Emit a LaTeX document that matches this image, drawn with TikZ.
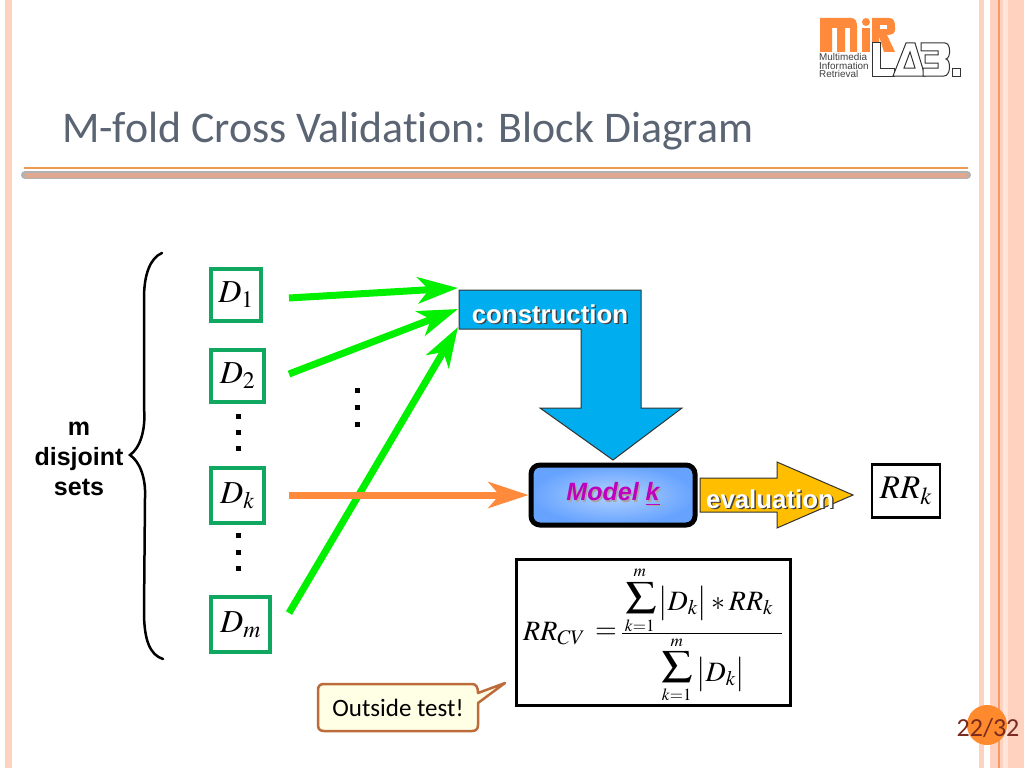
\documentclass[tikz,border=0pt]{standalone}
\usepackage[no-math]{fontspec}
\usepackage{mathptmx}
\setmainfont{Carlito}
\newfontfamily\arialfont{Liberation Sans}
\newfontfamily\titlefont[Ligatures=NoCommon]{Carlito}
\usetikzlibrary{arrows.meta}

\definecolor{stripecol}{HTML}{FFD2C0}
\definecolor{stripeline}{HTML}{F59A6B}
\definecolor{titlecol}{HTML}{5A6472}
\definecolor{ruleorange}{HTML}{EE9A4D}
\definecolor{setgreen}{HTML}{10A860}
\definecolor{arrowgreen}{HTML}{00F000}
\definecolor{arroworange}{HTML}{FF8A3C}
\definecolor{consblue}{HTML}{00AEEF}
\definecolor{evalyellow}{HTML}{FFBF00}
\definecolor{modelmid}{HTML}{B4D2FF}
\definecolor{modeledge}{HTML}{66A3FF}
\definecolor{notefill}{HTML}{FFFFE6}
\definecolor{noteline}{HTML}{BC6C3A}
\definecolor{pagecircle}{HTML}{FF8A2E}
\definecolor{pagetext}{HTML}{7A2A20}
\definecolor{logoorange}{HTML}{FF8A3C}
\definecolor{rulepink}{HTML}{E0A890}

\newcommand{\shadowtext}[2][black!75]{\rlap{\kern1.5pt\raisebox{-1.5pt}{\textcolor{#1}{#2}}}#2}

\tikzset{
  setbox/.style={draw=setgreen,line width=4pt,inner sep=0pt,fill=white,font=\fontsize{32}{36}\selectfont},
  greenarrow/.style={draw=arrowgreen,line width=7pt,-{Stealth[length=40pt,width=26pt,inset=11pt]}},
  orangearrow/.style={draw=arroworange,line width=7pt,-{Stealth[length=40pt,width=26pt,inset=11pt]}},
  dotmark/.style={fill=black,inner sep=0pt,minimum size=5pt},
  banner/.style={text=white,font=\arialfont\bfseries\fontsize{25.8}{28}\selectfont},
  logopart/.style={draw=black!80,line width=1pt,fill=white},
  formbig/.style={inner sep=0pt,anchor=base west,font=\fontsize{28}{32}\selectfont},
  formsum/.style={inner sep=0pt,font=\fontsize{25}{30}\selectfont},
  formlim/.style={inner sep=0pt,font=\fontsize{23}{26}\selectfont},
}

\begin{document}
\begin{tikzpicture}[x=1pt,y=-1pt]
  \useasboundingbox (0,0) rectangle (1024,768);
  \fill[white] (0,0) rectangle (1024,768);

  % page stripes
  \fill[stripecol] (5,0) rectangle (12,768);
  \fill[stripecol] (979,0) rectangle (984,768);
  \fill[stripecol] (990,0) rectangle (1024,768);
  \fill[stripecol!60] (1003,0) rectangle (1008,768);
  \fill[stripeline] (998,0) rectangle (999.5,768);

  % title
  \node[anchor=base west,inner sep=0pt,text=titlecol,font=\titlefont\fontsize{43.8}{46}\selectfont] (title) at (62,142) {M-fold Cross Validation: Block Diagram};
  \draw[ruleorange,line width=1.5pt] (24,168) -- (968,168);
  \draw[black!30,line width=8pt,line cap=round] (25,175) -- (967,175);
  \draw[rulepink,line width=5pt] (25,175) -- (967,175);

  % logo
  \fill[logoorange] (820,18) -- (851,18) .. controls (855,18) and (857,21) .. (857,26) -- (857,52) -- (850,52) -- (850,28) -- (845,28) -- (845,52) -- (837,52) -- (837,28) -- (832,28) -- (832,52) -- (820,52) -- cycle;
  \fill[logoorange] (862,28) rectangle (870,52);
  \fill[logoorange] (866,22) circle (4);
  \fill[logoorange] (872,18) -- (889,18) .. controls (894,18) and (895,22) .. (895,27) -- (895,30) .. controls (895,33) and (892,35) .. (887,35) -- (895,52) -- (884,52) -- (879,36) -- (879,44) -- (872,44) -- cycle;
  \fill[white] (880,25) rectangle (887,29);
  \draw[logopart] (872,43) -- (880,43) -- (880,68) -- (894,68) -- (894,76) -- (872,76) -- cycle;
  \draw[logopart] (893,76) -- (906,43) -- (915,43) -- (925,76) -- cycle;
  \draw[logopart] (904,68) -- (910,52) -- (915,68) -- cycle;
  \draw[logopart] (921,43) -- (945,43) .. controls (951,43) and (951,58) .. (946,59) .. controls (951,60) and (951,76) .. (944,76) -- (923,76) -- (923,68) -- (938,68) -- (938,63) -- (925,63) -- (925,55) -- (938,55) -- (938,51) -- (921,51) -- cycle;
  \draw[logopart] (952,68) rectangle (960,76);
  \node[anchor=north west,inner sep=0pt,align=left,text=black!75,font=\arialfont\fontsize{9.9}{8.8}\selectfont] (logotext) at (819,53) {Multimedia\\Information\\Retrieval};

  % data sets
  \node[setbox,minimum width=50pt,minimum height=52pt] (d1) at (236,295) {$D_{1}$};
  \node[setbox,minimum width=53pt,minimum height=52pt] (d2) at (237.5,376) {$D_{2}$};
  \node[setbox,minimum width=53pt,minimum height=55pt] (dk) at (237.5,495.5) {$D_{k}$};
  \node[setbox,minimum width=59pt,minimum height=55pt] (dm) at (240.5,624.5) {$D_{m}$};

  \foreach \y in {416,432,448,535,552,568}
    \node[dotmark] (dot\y) at (238,\y) {};
  \foreach \y in {390,407,424}
    \node[dotmark] (gap\y) at (357,\y) {};

  % brace
  \draw[black,line width=2.5pt,line cap=round] (162,253) .. controls (150,258) and (144,275) .. (144,298) -- (144,408) .. controls (146,430) and (140,448) .. (130,455) .. controls (140,462) and (146,478) .. (145,498) -- (144,612) .. controls (144,640) and (150,655) .. (163,659);
  \node[align=center,inner sep=0pt,font=\arialfont\bfseries\fontsize{25}{30}\selectfont] (sets) at (79,459) {m\\disjoint\\sets};

  % construction
  \fill[consblue,draw=black!80,line width=1pt] (459,290) -- (641,290) -- (641,408) -- (682,408) -- (613,460) -- (540,408) -- (581,408) -- (581,329) -- (459,329) -- cycle;
  \node[banner] (cons) at (550,315) {\shadowtext{construction}};

  % model
  \node[draw=black,line width=5pt,rounded corners=9pt,minimum width=164pt,minimum height=60pt,inner color=modelmid,outer color=modeledge] (model) at (613,495) {\arialfont\bfseries\itshape\fontsize{25}{28}\selectfont\color{violet!50!magenta}\shadowtext[black!35]{Model \underline{k}}};

  % evaluation
  \fill[evalyellow,draw=black!80,line width=1pt] (700,478) -- (777,478) -- (777,462) -- (853,495) -- (777,528) -- (777,512) -- (700,512) -- cycle;
  \node[banner] (eval) at (770,500) {\shadowtext{evaluation}};

  \node[draw=black,line width=2.5pt,inner sep=0pt,minimum width=68pt,minimum height=53pt,font=\fontsize{33}{36}\selectfont] (rrk) at (906,491) {$RR_{k}$};

  % connectors
  \coordinate (in1) at (458,288);
  \coordinate (in2) at (458,309);
  \coordinate (in3) at (458,327);
  \coordinate (out1) at (289,298);
  \coordinate (out2) at (289,374);
  \coordinate (outk) at (289,495);
  \coordinate (outm) at (289,613);
  \draw[greenarrow] (out1) -- (in1);
  \draw[greenarrow] (out2) -- (in2);
  \draw[greenarrow] (outm) -- (in3);
  \draw[orangearrow] (outk) -- (model.west);

  % formula
  \node[draw=black,line width=2.5pt,inner sep=0pt,minimum width=274pt,minimum height=146pt] (formula) at (653.5,632.5) {};
  \node[formbig] (lhs) at (523,640) {$RR_{CV}$};
  \node[formbig,anchor=center] (equal) at (606,633) {$=$};
  \node[formsum] (topsum) at (641,598) {\scalebox{1.22}[1]{$\displaystyle\sum$}};
  \node[formlim] (topm) at (640,573) {$_{m}$};
  \node[formlim] (topk) at (640,626) {$_{k=1}$};
  \node[formbig] (numer) at (658,610) {$\bigl|D_{k}\bigr|*RR_{k}$};
  \draw[black,line width=1pt] (622,633) -- (782,633);
  \node[formsum] (botsum) at (677,667) {\scalebox{1.22}[1]{$\displaystyle\sum$}};
  \node[formlim] (botm) at (677,643) {$_{m}$};
  \node[formlim] (botk) at (677,695) {$_{k=1}$};
  \node[formbig] (denom) at (696,681) {$\bigl|D_{k}\bigr|$};

  % note
  \fill[notefill,draw=noteline,line width=2.5pt,line join=round] (324,684) -- (472,684) .. controls (476,684) and (478,687) .. (478,693) -- (505,683) -- (478,703) -- (478,725) .. controls (478,729) and (476,731) .. (472,731) -- (324,731) .. controls (320,731) and (318,729) .. (318,725) -- (318,690) .. controls (318,686) and (320,684) .. (324,684) -- cycle;
  \node[inner sep=0pt,font=\fontsize{25}{30}\selectfont] (note) at (398,708) {Outside test!};

  % page number
  \fill[pagecircle] (987,725) circle (20);
  \node[inner sep=0pt,text=pagetext,font=\fontsize{26}{30}\selectfont] (page) at (988,728) {22/32};
\end{tikzpicture}
\end{document}
